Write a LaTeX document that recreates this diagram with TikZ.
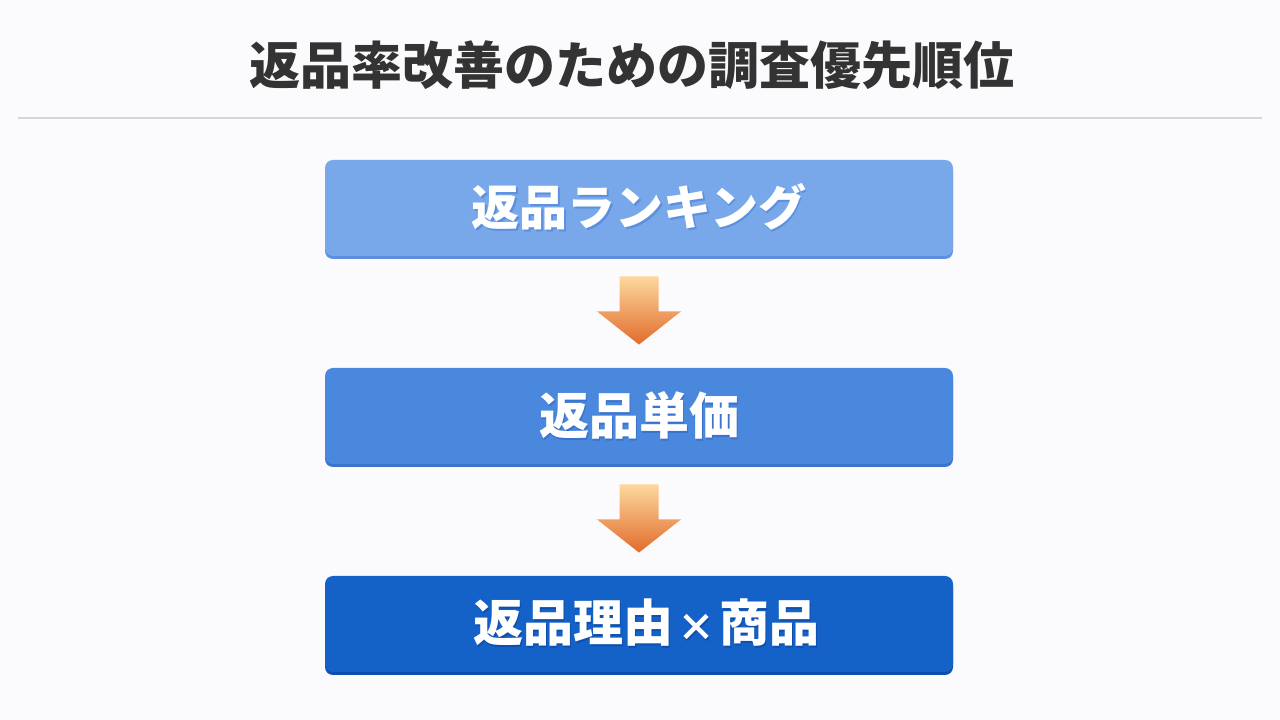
\documentclass[tikz,border=0pt]{standalone}
\usepackage{fontspec}
\setmainfont{Noto Sans CJK JP}
\usetikzlibrary{calc}
\usetikzlibrary{shadows}
\definecolor{paper}{HTML}{FBFBFD}
\definecolor{titlegray}{HTML}{333333}
\definecolor{rulegray}{HTML}{D6D6DA}
\definecolor{rankfill}{HTML}{78A8EA}
\definecolor{rankedge}{HTML}{5C90DE}
\definecolor{pricefill}{HTML}{4A88DE}
\definecolor{priceedge}{HTML}{3A72CC}
\definecolor{reasonfill}{HTML}{1462C8}
\definecolor{reasonedge}{HTML}{0C4FAE}
\definecolor{arrowtop}{HTML}{FCD89C}
\definecolor{arrowbot}{HTML}{E06C2C}
\newcommand{\castshadow}[2]{\rlap{\raisebox{-2pt}{\kern1.5pt\textcolor{#1}{#2}}}#2}
\newcommand{\smalltimes}{\kern4pt{\fontsize{38}{40}\selectfont ×}\kern4pt}
\tikzset{
	every path/.style={thick},
	align=center,
	stepbox/.style={
		rectangle,
		rounded corners=8pt,
		minimum width=628pt,
		minimum height=96pt,
		inner sep=0pt,
		text=white,
		font=\fontsize{50}{60}\selectfont\bfseries,
	},
	band/.style={
		shadow xshift=0pt,
		shadow yshift=-3pt,
		opacity=1,
	},
	flowarrow/.style={
		draw=none,
		top color=arrowtop,
		bottom color=arrowbot,
	},
}

\begin{document}
\begin{tikzpicture}[x=1pt,y=1pt]
		\useasboundingbox (0,0) rectangle (1280,720);
		\fill[paper] (0,0) rectangle (1280,720);

		\node[font=\fontsize{51}{60}\selectfont\bfseries, text=titlegray] (title) at (632,655) {返品率改善のための調査優先順位};
		\draw[line width=1.5pt, rulegray] (18,602) -- (1262,602);

		\node[stepbox, font=\fontsize{48}{60}\selectfont\bfseries, fill=rankfill, drop shadow={band, fill=rankedge}] (rank) at (639,512) {\castshadow{rankedge}{返品ランキング}};
		\node[stepbox, fill=pricefill, drop shadow={band, fill=priceedge}] (price) at (639,304) {\castshadow{priceedge}{返品単価}};
		\node[stepbox, fill=reasonfill, drop shadow={band, fill=reasonedge}] (reason) at (639,96) {\hspace*{14pt}\castshadow{reasonedge}{返品理由\smalltimes 商品}};

		\foreach \a/\b in {rank/price, price/reason}
			\shade[flowarrow] ($(\a.south)+(-19.5,-20)$) -- ($(\a.south)+(19.5,-20)$) -- ($(\a.south)+(19.5,-55)$) -- ($(\a.south)+(42,-55)$) -- ($(\b.north)+(0,23)$) -- ($(\a.south)+(-42,-55)$) -- ($(\a.south)+(-19.5,-55)$) -- cycle;

	\end{tikzpicture}
\end{document}
